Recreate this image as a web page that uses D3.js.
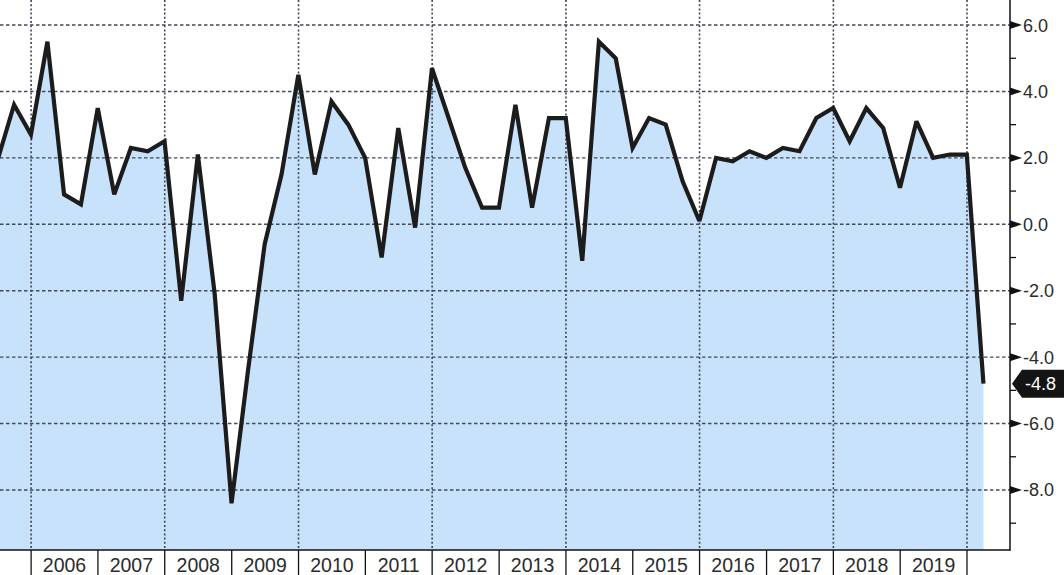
<!DOCTYPE html>
<html>
<head>
<meta charset="utf-8">
<script src="https://cdn.jsdelivr.net/npm/d3@7"></script>
<style>
  html, body { margin: 0; padding: 0; background: #ffffff; overflow: hidden; }
  svg { display: block; }
</style>
</head>
<body>
<svg id="chart" width="1064" height="575"></svg>
<script>
// ---- data (US real GDP, QoQ annualized %) ----
const quarters = [
  "2005Q2","2005Q3","2005Q4",
  "2006Q1","2006Q2","2006Q3","2006Q4",
  "2007Q1","2007Q2","2007Q3","2007Q4",
  "2008Q1","2008Q2","2008Q3","2008Q4",
  "2009Q1","2009Q2","2009Q3","2009Q4",
  "2010Q1","2010Q2","2010Q3","2010Q4",
  "2011Q1","2011Q2","2011Q3","2011Q4",
  "2012Q1","2012Q2","2012Q3","2012Q4",
  "2013Q1","2013Q2","2013Q3","2013Q4",
  "2014Q1","2014Q2","2014Q3","2014Q4",
  "2015Q1","2015Q2","2015Q3","2015Q4",
  "2016Q1","2016Q2","2016Q3","2016Q4",
  "2017Q1","2017Q2","2017Q3","2017Q4",
  "2018Q1","2018Q2","2018Q3","2018Q4",
  "2019Q1","2019Q2","2019Q3","2019Q4",
  "2020Q1"
];
const values = [
  1.9, 3.6, 2.7,
  5.5, 0.9, 0.6, 3.5,
  0.9, 2.3, 2.2, 2.5,
  -2.3, 2.1, -2.1, -8.4,
  -4.4, -0.6, 1.5, 4.5,
  1.5, 3.7, 3.0, 2.0,
  -1.0, 2.9, -0.1, 4.7,
  3.2, 1.7, 0.5, 0.5,
  3.6, 0.5, 3.2, 3.2,
  -1.1, 5.5, 5.0, 2.3,
  3.2, 3.0, 1.3, 0.1,
  2.0, 1.9, 2.2, 2.0,
  2.3, 2.2, 3.2, 3.5,
  2.5, 3.5, 2.9, 1.1,
  3.1, 2.0, 2.1, 2.1,
  -4.8
];
const yMajorTicks = [-8, -6, -4, -2, 0, 2, 4, 6];
const yMinorTicks = [-9, -7, -5, -3, -1, 1, 3, 5];
const yearLabels = [2006,2007,2008,2009,2010,2011,2012,2013,2014,2015,2016,2017,2018,2019];
const gridYears = [2006,2008,2010,2012,2014,2016,2018,2020];
const lastLabel = "-4.8";

// ---- layout ----
const W = 1064, H = 575;
const plotRight = 1010, plotBottom = 550;

const parseQ = s => {
  const y = +s.slice(0, 4), q = +s.slice(5);
  return new Date(y, q * 3, 0); // quarter-end date
};
const data = quarters.map((q, i) => ({ date: parseQ(q), value: values[i] }));

const x = d3.scaleTime()
  .domain([new Date(2005, 6, 15), new Date(2020, 7, 23)])
  .range([0, plotRight]);
const y = d3.scaleLinear()
  .domain([-9.807, 6.754])
  .range([plotBottom, 0]);

const svg = d3.select("#chart");
const defs = svg.append("defs");
defs.append("clipPath").attr("id", "plotClip")
  .append("rect").attr("x", 0).attr("y", 0).attr("width", plotRight).attr("height", plotBottom);

const plot = svg.append("g").attr("clip-path", "url(#plotClip)");

// area fill down to bottom of plot
const area = d3.area()
  .x(d => x(d.date))
  .y0(plotBottom)
  .y1(d => y(d.value));
plot.append("path")
  .datum(data)
  .attr("d", area)
  .attr("fill", "#c9e2fc");

// horizontal grid (dashed)
plot.selectAll("line.hgrid").data(yMajorTicks).enter().append("line")
  .attr("class", "hgrid")
  .attr("x1", 0).attr("x2", plotRight)
  .attr("y1", d => y(d)).attr("y2", d => y(d))
  .attr("stroke", "#434b5a").attr("stroke-width", 1.4)
  .attr("stroke-dasharray", "3.5,2.5");

// vertical grid (dotted) at every second year
plot.selectAll("line.vgrid").data(gridYears).enter().append("line")
  .attr("class", "vgrid")
  .attr("x1", d => x(new Date(d, 0, 1))).attr("x2", d => x(new Date(d, 0, 1)))
  .attr("y1", 0).attr("y2", plotBottom)
  .attr("stroke", "#3f4757").attr("stroke-width", 1.6)
  .attr("stroke-dasharray", "2,2.2");

// line
const line = d3.line()
  .x(d => x(d.date))
  .y(d => y(d.value));
plot.append("path")
  .datum(data)
  .attr("d", line)
  .attr("fill", "none")
  .attr("stroke", "#1c1c1c")
  .attr("stroke-width", 4.2)
  .attr("stroke-linejoin", "miter")
  .attr("stroke-miterlimit", 3)
  .attr("stroke-linecap", "butt");

// ---- axes ----
const axisG = svg.append("g");
// bottom axis line
axisG.append("line")
  .attr("x1", 0).attr("x2", plotRight)
  .attr("y1", plotBottom).attr("y2", plotBottom)
  .attr("stroke", "#111").attr("stroke-width", 1.5);
// right axis line
axisG.append("line")
  .attr("x1", plotRight).attr("x2", plotRight)
  .attr("y1", 0).attr("y2", plotBottom + 0.75)
  .attr("stroke", "#111").attr("stroke-width", 1.5);

// year boundary ticks
const yearBounds = d3.range(2006, 2021);
axisG.selectAll("line.xtick").data(yearBounds).enter().append("line")
  .attr("class", "xtick")
  .attr("x1", d => x(new Date(d, 0, 1))).attr("x2", d => x(new Date(d, 0, 1)))
  .attr("y1", plotBottom).attr("y2", H)
  .attr("stroke", "#111").attr("stroke-width", 1.3);

// year labels centred in each year
axisG.selectAll("text.xlab").data(yearLabels).enter().append("text")
  .attr("class", "xlab")
  .attr("x", d => (x(new Date(d, 0, 1)) + x(new Date(d + 1, 0, 1))) / 2)
  .attr("y", 572)
  .attr("text-anchor", "middle")
  .attr("font-family", "'Liberation Sans', Arial, sans-serif")
  .attr("font-size", 19.5)
  .attr("fill", "#2b2b2b")
  .text(d => d);

// right axis minor ticks
axisG.selectAll("line.ymin").data(yMinorTicks).enter().append("line")
  .attr("class", "ymin")
  .attr("x1", plotRight).attr("x2", plotRight + 6)
  .attr("y1", d => y(d)).attr("y2", d => y(d))
  .attr("stroke", "#111").attr("stroke-width", 1.3);

// right axis major markers (triangles)
axisG.selectAll("path.ymaj").data(yMajorTicks).enter().append("path")
  .attr("class", "ymaj")
  .attr("d", d => {
    const yy = y(d);
    return `M${plotRight},${yy - 4}L${plotRight + 12},${yy}L${plotRight},${yy + 4}Z`;
  })
  .attr("fill", "#111");

axisG.selectAll("text.ylab").data(yMajorTicks).enter().append("text")
  .attr("class", "ylab")
  .attr("x", plotRight + 13)
  .attr("y", d => y(d))
  .attr("dy", "0.36em")
  .attr("font-family", "'Liberation Sans', Arial, sans-serif")
  .attr("font-size", 18)
  .attr("fill", "#2b2b2b")
  .text(d => d.toFixed(1));

// last value tag
const last = data[data.length - 1];
const ty = y(last.value);
axisG.append("path")
  .attr("d", `M${plotRight + 2},${ty}L${plotRight + 12},${ty - 14}L${W + 5},${ty - 14}L${W + 5},${ty + 14}L${plotRight + 12},${ty + 14}Z`)
  .attr("fill", "#141414");
axisG.append("text")
  .attr("x", plotRight + 15)
  .attr("y", ty)
  .attr("dy", "0.36em")
  .attr("font-family", "'Liberation Sans', Arial, sans-serif")
  .attr("font-size", 18)
  .attr("fill", "#ffffff")
  .text(lastLabel);
</script>
</body>
</html>
